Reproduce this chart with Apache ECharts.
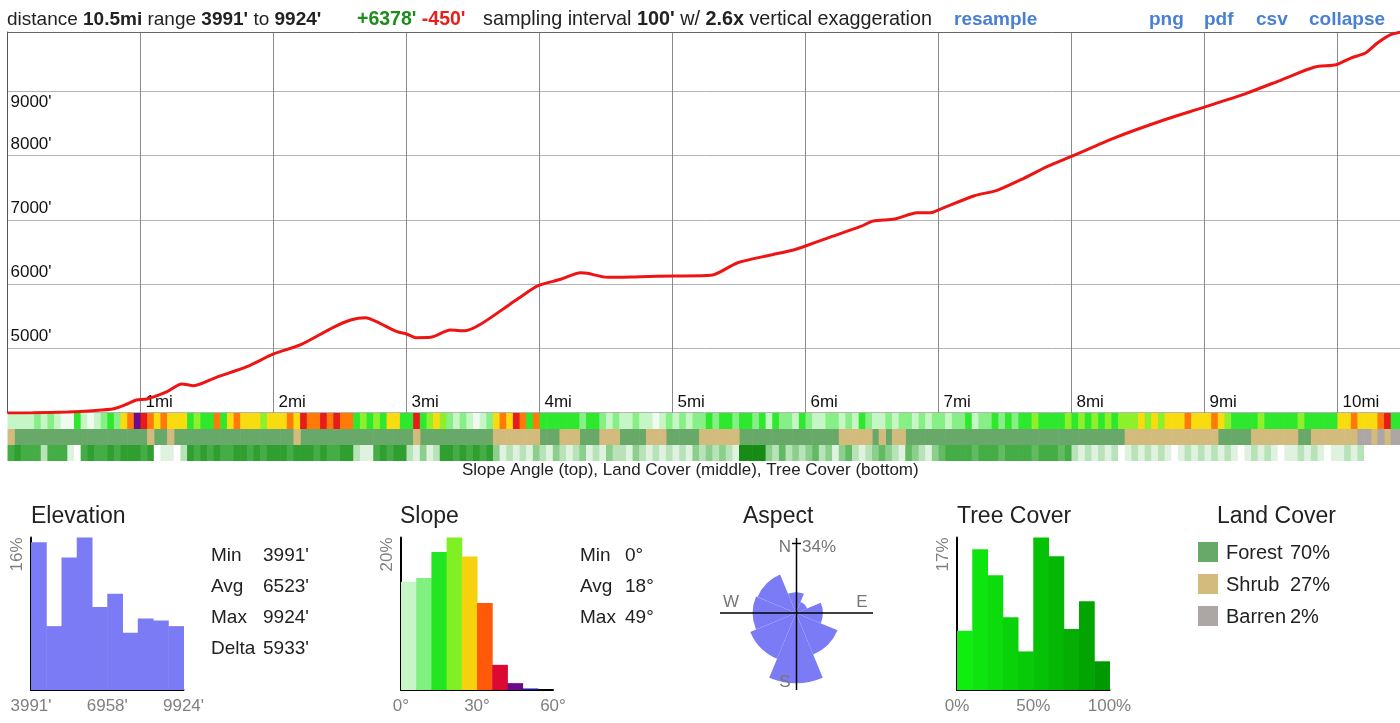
<!DOCTYPE html>
<html>
<head>
<meta charset="utf-8">
<title>Elevation profile</title>
<script src="https://cdn.jsdelivr.net/npm/echarts@6/dist/echarts.min.js"></script>
<style>
  html, body { margin: 0; padding: 0; background: #fff; }
  #main { width: 1400px; height: 723px; }
</style>
</head>
<body>
<div id="main"></div>
<script>
// elevation profile: miles along the route and feet
var profileMiles = [0, 0.19, 0.45, 0.64, 0.8, 0.9, 0.97, 1.05, 1.2, 1.31,
  1.4, 1.57, 1.8, 2.0, 2.2, 2.45, 2.58, 2.69, 2.8, 2.93,
  3.0, 3.07, 3.18, 3.33, 3.44, 3.56, 3.78, 3.86, 3.99, 4.16,
  4.31, 4.36, 4.51, 4.76, 5.01, 5.29, 5.49, 5.74, 5.91, 6.0,
  6.16, 6.41, 6.51, 6.67, 6.84, 6.94, 7.01, 7.27, 7.44, 7.62,
  7.82, 8.0, 8.32, 8.7, 9.0, 9.32, 9.58, 9.83, 9.99, 10.1,
  10.21, 10.3, 10.4, 10.48];
var profileFeet = [3991, 3995, 4007, 4027, 4058, 4131, 4193, 4209, 4323, 4443,
  4416, 4547, 4712, 4910, 5050, 5325, 5439, 5475, 5388, 5257,
  5221, 5164, 5170, 5283, 5272, 5377, 5688, 5802, 5973, 6073,
  6175, 6166, 6104, 6114, 6124, 6135, 6331, 6451, 6529, 6591,
  6711, 6892, 6980, 7011, 7110, 7110, 7163, 7374, 7458, 7624,
  7832, 7988, 8273, 8558, 8755, 8973, 9180, 9378, 9414, 9518,
  9596, 9752, 9882, 9924];

// strips under the profile, one code per 0.05 mi
var cellMiles = 0.05;
var slopeBand =
  '11112121003101232568' + '76565553433635655545' + '55657667676634343553' +
  '37345421210125657636' + '33333323321211211012' + '12122323323323132213' +
  '21122121321121221212' + '21223122323233433334' + '34343434445454555655' +
  '56543333433333433333' + '5565556733';
var landBand =
  'SFFFFFFFFFFFFFFFFFFF' + 'FSFFSFFFFFFFFFFFFFFF' + 'FFFSFFFFFFFFFFFFFFFF' +
  'FSFFFFFFFFFFFSSSSSSS' + 'FFFSSSFFFSSSFFFFSSSF' + 'FFFFSSSSSSFFFFFFFFFF' +
  'FFFFFSSSSSFSFSSFFFFF' + 'FFFFFFFFFFFFFFFFFFFF' + 'FFFFFFFFSSSSSSSSSSSS' +
  'SSFFFFFSSSSSSSFFSSSS' + 'SSSBBSBSBB';
var treeBand =
  '56555255510565565666' + '56011026565655665656' + '66566656556621156566' +
  '21312665656563121213' + '21321231213221321212' + '12132323217777324232' +
  '34231342123432143213' + '45555455545555455545' + '21212120121212101212' +
  '12121012121011212101' + '1212000000';

// histograms (percent per bin)
var elevHist = [15.5, 6.7, 13.9, 16.0, 8.7, 10.1, 6.0, 7.5, 7.3, 6.7];
var elevTicks = ["3991'", "6958'", "9924'"];
var slopeHist = [14.2, 14.7, 18.1, 20.0, 17.5, 11.4, 3.3, 0.9, 0.2, 0];
var slopeTicks = ['0°', '30°', '60°'];
var treeHist = [6.6, 15.7, 12.8, 8.1, 4.3, 17.0, 14.9, 6.8, 9.9, 3.2];
var treeTicks = ['0%', '50%', '100%'];

var aspectDirs = ['N', 'NE', 'E', 'SE', 'S', 'SW', 'W', 'NW'];
var aspectPct = [3, 1, 5, 14, 34, 17, 13, 12];

var landNames = ['Forest', 'Shrub', 'Barren'];
var landCodes = ['F', 'S', 'B'];
var landPct = [70, 27, 2];

var elevStats = [['Min', "3991'"], ['Avg', "6523'"], ['Max', "9924'"], ['Delta', "5933'"]];
var slopeStats = [['Min', '0°'], ['Avg', '18°'], ['Max', '49°']];

// colours
var slopeColors = ['#effbef', '#c6f5c6', '#86f086', '#2ee82e', '#8cf02a', '#f8dc10', '#ff7a08', '#e81a1a', '#6e0a8c'];
var treeColors = ['#ffffff', '#dff2df', '#b8e2b8', '#8ccf8c', '#62bb62', '#45ad45', '#2f9f2f', '#168c16'];
var landColors = ['#68a868', '#d3bb7e', '#aca7a4'];
var slopeHistColors = ['#c6f5c6', '#80f080', '#22e622', '#7ef024', '#f6d20c', '#ff5a0a', '#dc0a32', '#6c0a8a', '#1c1ca0', '#1c1ca0'];
var treeHistColors = ['#10ee10', '#0ee40e', '#0cdc0c', '#0ad20a', '#08ca08', '#06c206', '#05b805', '#04ae04', '#02a402', '#009a00'];
var elevColor = '#7b7bf6';

var chart = echarts.init(document.getElementById('main'));

function cells(codes, row, keep) {
  var out = [];
  for (var i = 0; i < codes.length; i++) {
    var c = codes.charAt(i);
    if (keep && c !== keep) continue;
    out.push([i * cellMiles, row, keep ? 0 : +c]);
  }
  return out;
}

function bandItem(palette) {
  return function (params, api) {
    var a = api.coord([api.value(0), api.value(1)]);
    var b = api.coord([api.value(0) + cellMiles, api.value(1)]);
    var h = api.size([0, 1])[1];
    return {
      type: 'rect',
      shape: { x: a[0], y: a[1] - h / 2, width: b[0] - a[0] + 0.6, height: h },
      style: { fill: palette[api.value(2)] }
    };
  };
}

function histItem(colors) {
  return function (params, api) {
    var top = api.coord([api.value(0), api.value(1)]);
    var base = api.coord([api.value(0) + 1, 0]);
    return {
      type: 'rect',
      shape: { x: top[0], y: top[1], width: base[0] - top[0] + 0.5, height: base[1] - top[1] },
      style: { fill: colors[api.value(0)] }
    };
  };
}

function histData(vals) {
  return vals.map(function (v, i) { return [i, v]; });
}

function statText(rows) {
  return rows.map(function (r) { return '{k|' + r[0] + '}{v|' + r[1] + '}'; }).join('\n');
}

function histAxes(gridIndex, ticks, maxPct) {
  return {
    x: {
      type: 'value', gridIndex: gridIndex, min: 0, max: 10, interval: 5,
      axisLine: { show: true, lineStyle: { color: '#000', width: 2 } },
      axisTick: { show: false }, splitLine: { show: false },
      axisLabel: { fontSize: 17, color: '#808080', margin: 8,
        formatter: function (v) { return ticks[v / 5]; } }
    },
    y: {
      type: 'value', gridIndex: gridIndex, min: 0, max: maxPct, interval: maxPct,
      axisLine: { show: true, lineStyle: { color: '#000', width: 2 } },
      axisTick: { show: false }, splitLine: { show: false },
      axisLabel: { rotate: 90, align: 'right', verticalAlign: 'bottom', margin: 5,
        fontSize: 17, color: '#808080',
        formatter: function (v) { return v ? v + '%' : ''; } }
    }
  };
}

var elevAx = histAxes(2, elevTicks, 16);
var slopeAx = histAxes(3, slopeTicks, 20);
var treeAx = histAxes(4, treeTicks, 17);

var sectionTitle = { fontSize: 23, fontWeight: 'normal', color: '#222' };
var linkStyle = { fontSize: 19, fontWeight: 'bold', color: '#4a80d4' };

function headerStyle(size) {
  return {
    fontSize: size, color: '#222', fontWeight: 'normal',
    rich: {
      n: { fontSize: size, color: '#222' },
      b: { fontSize: size, color: '#222', fontWeight: 'bold' },
      g: { fontSize: size, color: '#1e8c1e', fontWeight: 'bold' },
      r: { fontSize: size, color: '#e8201c', fontWeight: 'bold' }
    }
  };
}

var statStyle = function (keyWidth) {
  return {
    fontSize: 19, fontWeight: 'normal', color: '#222', lineHeight: 31,
    rich: { k: { width: keyWidth, fontSize: 19, color: '#222', lineHeight: 31 },
            v: { fontSize: 19, color: '#222', lineHeight: 31 } }
  };
};

var landSeries = landNames.map(function (name, k) {
  return {
    name: name, type: 'custom', xAxisIndex: 2, yAxisIndex: 2,
    itemStyle: { color: landColors[k] },
    renderItem: bandItem([landColors[k]]),
    encode: { x: 0, y: 1 },
    data: cells(landBand, 1, landCodes[k])
  };
});

var option = {
  animation: false,
  backgroundColor: '#fff',
  textStyle: { fontFamily: 'Liberation Sans, Arial, sans-serif' },
  title: [
    { left: 7, top: 10, padding: 0, text: "{n|distance }{b|10.5mi}{n| range }{b|3991'}{n| to }{b|9924'}", textStyle: headerStyle(19) },
    { left: 357, top: 10, padding: 0, text: "{g|+6378'} {r|-450'}", textStyle: headerStyle(19.5) },
    { left: 483, top: 10, padding: 0, text: "{n|sampling interval }{b|100'}{n| w/ }{b|2.6x}{n| vertical exaggeration}", textStyle: headerStyle(19.8) },
    { left: 954, top: 10, padding: 0, text: 'resample', textStyle: linkStyle },
    { left: 1149, top: 10, padding: 0, text: 'png', textStyle: linkStyle },
    { left: 1204, top: 10, padding: 0, text: 'pdf', textStyle: linkStyle },
    { left: 1256, top: 10, padding: 0, text: 'csv', textStyle: linkStyle },
    { left: 1309, top: 10, padding: 0, text: 'collapse', textStyle: linkStyle },
    { left: 462, top: 462, padding: 0, text: 'Slope Angle (top), Land Cover (middle), Tree Cover (bottom)',
      textStyle: { fontSize: 17, fontWeight: 'normal', color: '#222' } },
    { left: 31, top: 505, padding: 0, text: 'Elevation', textStyle: sectionTitle },
    { left: 400, top: 505, padding: 0, text: 'Slope', textStyle: sectionTitle },
    { left: 743, top: 505, padding: 0, text: 'Aspect', textStyle: sectionTitle },
    { left: 957, top: 505, padding: 0, text: 'Tree Cover', textStyle: sectionTitle },
    { left: 1217, top: 505, padding: 0, text: 'Land Cover', textStyle: sectionTitle },
    { left: 211, top: 540, padding: 0, text: statText(elevStats), textStyle: statStyle(52) },
    { left: 580, top: 540, padding: 0, text: statText(slopeStats), textStyle: statStyle(45) }
  ],
  legend: {
    left: 1198, top: 542, padding: 0, orient: 'vertical', icon: 'rect',
    itemWidth: 20, itemHeight: 20, itemGap: 10.5, selectedMode: false,
    data: landNames.map(function (n, k) { return { name: n, itemStyle: { color: landColors[k] } }; }),
    formatter: function (name) {
      return '{n|' + name + '}{v|' + landPct[landNames.indexOf(name)] + '%}';
    },
    textStyle: { fontSize: 20, color: '#222', padding: [3, 0, 0, 3],
      rich: { n: { width: 64, fontSize: 20, color: '#222' }, v: { fontSize: 20, color: '#222' } } }
  },
  grid: [
    { left: 7.5, top: 32, width: 1396.5, height: 381, outerBoundsMode: 'none' },
    { left: 7.5, top: 413, width: 1396.5, height: 48, outerBoundsMode: 'none' },
    { left: 31, top: 537.5, width: 152.5, height: 152.5 },
    { left: 401, top: 537.5, width: 152, height: 152.5 },
    { left: 957, top: 537.5, width: 152.5, height: 152.5 }
  ],
  xAxis: [
    { type: 'value', gridIndex: 0, min: 0, max: 10.5, interval: 1,
      axisLine: { show: false }, axisTick: { show: false },
      splitLine: { show: true, lineStyle: { color: '#8c8c8c', width: 1 } },
      axisLabel: { inside: true, align: 'left', verticalAlign: 'bottom', margin: 2,
        padding: [0, 0, 0, 5], fontSize: 17, color: '#111',
        formatter: function (v) { return (v > 0 && Math.round(v) === v) ? v + 'mi' : ''; } } },
    { type: 'value', gridIndex: 0, position: 'top', min: 0, max: 10.5,
      axisLine: { show: true, lineStyle: { color: '#666' } }, axisTick: { show: false },
      axisLabel: { show: false }, splitLine: { show: false } },
    { type: 'value', gridIndex: 1, min: 0, max: 10.5, show: false },
    elevAx.x, slopeAx.x, treeAx.x
  ],
  yAxis: [
    { type: 'value', gridIndex: 0, min: 3991, max: 9924,
      axisLine: { show: true, lineStyle: { color: '#555' } }, axisTick: { show: false },
      splitLine: { show: true, lineStyle: { color: '#b4b4b4', width: 1 } },
      axisLabel: { inside: true, verticalAlign: 'bottom', margin: 3, padding: [0, 0, 3, 0],
        fontSize: 17, color: '#111',
        formatter: function (v) { return (v % 1000 === 0 && v >= 5000 && v < 9000) ? v + "'" : ''; } } },
    { type: 'value', gridIndex: 0, position: 'left', min: 3991, max: 9924,
      axisLine: { show: false }, axisTick: { show: false }, splitLine: { show: false },
      axisLabel: { inside: true, verticalAlign: 'top', margin: 3, padding: [2, 0, 0, 0],
        fontSize: 17, color: '#111',
        formatter: function (v) { return v === 9000 ? v + "'" : ''; } } },
    { type: 'category', gridIndex: 1, data: ['slope', 'land', 'tree'], inverse: true, show: false },
    elevAx.y, slopeAx.y, treeAx.y
  ],
  polar: { center: [796, 613], radius: 70 },
  angleAxis: { type: 'category', data: aspectDirs, startAngle: 112.5, clockwise: true,
    axisLine: { show: false }, axisTick: { show: false }, axisLabel: { show: false },
    splitLine: { show: false } },
  radiusAxis: { type: 'value', min: 0, max: Math.sqrt(34),
    axisLine: { show: false }, axisTick: { show: false }, axisLabel: { show: false },
    splitLine: { show: false } },
  graphic: [
    { type: 'line', shape: { x1: 720, y1: 613, x2: 873, y2: 613 }, style: { stroke: '#000', lineWidth: 1.5 }, z: 50 },
    { type: 'line', shape: { x1: 796.5, y1: 538, x2: 796.5, y2: 690 }, style: { stroke: '#000', lineWidth: 1.5 }, z: 50 },
    { type: 'line', shape: { x1: 792, y1: 543.5, x2: 801, y2: 543.5 }, style: { stroke: '#000', lineWidth: 1.5 }, z: 50 },
    { type: 'text', x: 791, y: 547, style: { text: 'N', fontSize: 17, fill: '#777', align: 'right', verticalAlign: 'middle', fontFamily: 'Liberation Sans' }, z: 50 },
    { type: 'text', x: 802, y: 547, style: { text: aspectPct[4] + '%', fontSize: 17, fill: '#777', align: 'left', verticalAlign: 'middle', fontFamily: 'Liberation Sans' }, z: 50 },
    { type: 'text', x: 731, y: 602, style: { text: 'W', fontSize: 17, fill: '#777', align: 'center', verticalAlign: 'middle', fontFamily: 'Liberation Sans' }, z: 50 },
    { type: 'text', x: 862, y: 602, style: { text: 'E', fontSize: 17, fill: '#777', align: 'center', verticalAlign: 'middle', fontFamily: 'Liberation Sans' }, z: 50 },
    { type: 'text', x: 785, y: 682, style: { text: 'S', fontSize: 17, fill: '#777', align: 'center', verticalAlign: 'middle', fontFamily: 'Liberation Sans' }, z: 50 }
  ],
  series: [
    { type: 'line', xAxisIndex: 0, yAxisIndex: 0, smooth: 0.25, showSymbol: false,
      lineStyle: { color: '#ee1414', width: 3 },
      data: profileMiles.map(function (m, i) { return [m, profileFeet[i]]; }) },
    { type: 'custom', xAxisIndex: 2, yAxisIndex: 2, renderItem: bandItem(slopeColors),
      encode: { x: 0, y: 1 }, data: cells(slopeBand, 0) },
    { type: 'custom', xAxisIndex: 2, yAxisIndex: 2, renderItem: bandItem(treeColors),
      encode: { x: 0, y: 1 }, data: cells(treeBand, 2) }
  ].concat(landSeries).concat([
    { type: 'custom', xAxisIndex: 3, yAxisIndex: 3, renderItem: histItem(elevHist.map(function () { return elevColor; })),
      encode: { x: 0, y: 1 }, data: histData(elevHist) },
    { type: 'custom', xAxisIndex: 4, yAxisIndex: 4, renderItem: histItem(slopeHistColors),
      encode: { x: 0, y: 1 }, data: histData(slopeHist) },
    { type: 'custom', xAxisIndex: 5, yAxisIndex: 5, renderItem: histItem(treeHistColors),
      encode: { x: 0, y: 1 }, data: histData(treeHist) },
    { type: 'bar', coordinateSystem: 'polar', barCategoryGap: '0%',
      itemStyle: { color: elevColor },
      data: aspectPct.map(function (p) { return Math.sqrt(p); }) }
  ])
};

chart.setOption(option);
</script>
</body>
</html>
